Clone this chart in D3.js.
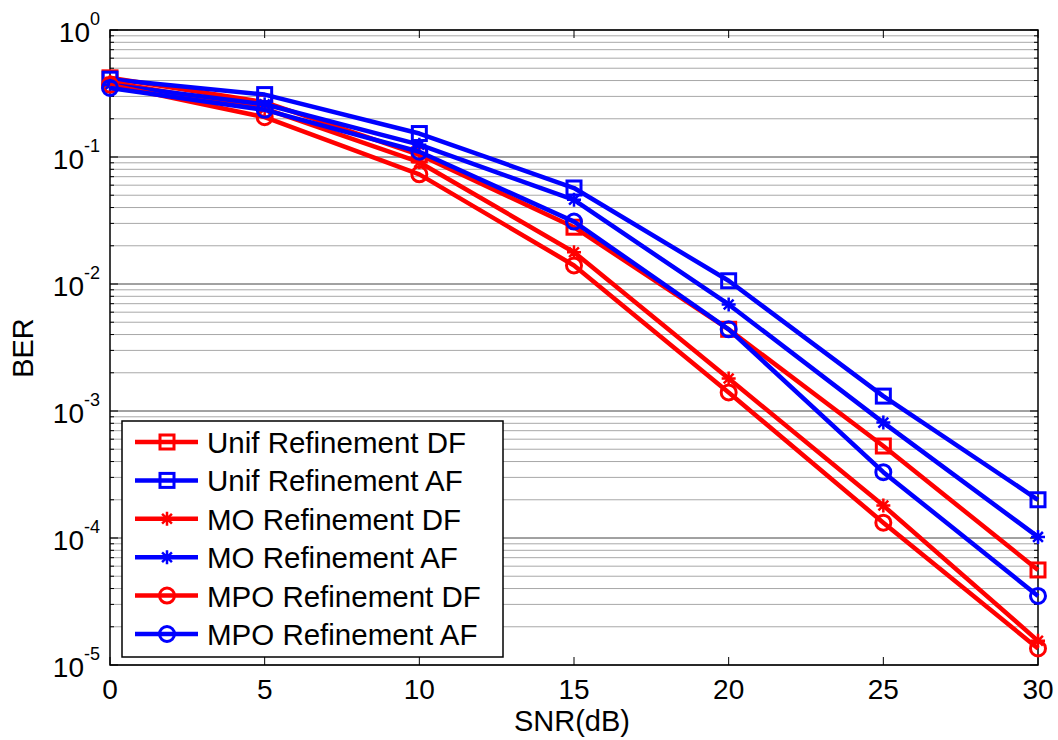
<!DOCTYPE html>
<html>
<head>
<meta charset="utf-8">
<script src="https://cdn.jsdelivr.net/npm/d3@7"></script>
<style>
  html, body { margin: 0; padding: 0; background: #fff; }
  svg { display: block; font-family: "Liberation Sans", Arial, sans-serif; }
</style>
</head>
<body>
<svg id="chart" width="1058" height="740"></svg>
<script>
// SNR points (dB)
const snr = [0, 5, 10, 15, 20, 25, 30];

// BER curves
const unifDF = [0.42, 0.27, 0.104, 0.0280, 0.0044, 5.3e-4, 5.6e-5];
const unifAF = [0.41, 0.31, 0.153, 0.057, 0.0106, 1.31e-3, 2.0e-4];
const moDF   = [0.39, 0.24, 0.091, 0.0178, 1.8e-3, 1.8e-4, 1.55e-5];
const moAF   = [0.37, 0.26, 0.125, 0.046, 6.9e-3, 8.1e-4, 1.02e-4];
const mpoDF  = [0.37, 0.206, 0.073, 0.0140, 1.4e-3, 1.32e-4, 1.35e-5];
const mpoAF  = [0.35, 0.235, 0.110, 0.031, 4.4e-3, 3.3e-4, 3.5e-5];

const seriesNames = ["Unif Refinement DF", "Unif Refinement AF", "MO Refinement DF",
                     "MO Refinement AF", "MPO Refinement DF", "MPO Refinement AF"];
const seriesValues = [unifDF, unifAF, moDF, moAF, mpoDF, mpoAF];
const seriesColors = ["#ff0000", "#0000ff", "#ff0000", "#0000ff", "#ff0000", "#0000ff"];
const seriesMarkers = ["square", "square", "star", "star", "circle", "circle"];

const xTicks = [0, 5, 10, 15, 20, 25, 30];
const yExponents = [0, -1, -2, -3, -4, -5];

const svg = d3.select("#chart");
const plotL = 110, plotR = 1038, plotT = 30, plotB = 665;

const x = d3.scaleLinear().domain([0, 30]).range([plotL, plotR]);
const y = d3.scaleLog().domain([1e-5, 1]).range([plotB, plotT]);

// horizontal grid: minor (2..9) and major (decades)
const minorVals = [], majorVals = [];
for (let e = -5; e <= 0; e++) {
  majorVals.push(Math.pow(10, e));
  if (e < 0) for (let m = 2; m <= 9; m++) minorVals.push(m * Math.pow(10, e));
}
svg.append("g").selectAll("line").data(minorVals).join("line")
  .attr("x1", plotL).attr("x2", plotR)
  .attr("y1", d => y(d)).attr("y2", d => y(d))
  .attr("stroke", "#a8a8a8").attr("stroke-width", 1);
svg.append("g").selectAll("line").data(majorVals).join("line")
  .attr("x1", plotL).attr("x2", plotR)
  .attr("y1", d => y(d)).attr("y2", d => y(d))
  .attr("stroke", "#444").attr("stroke-width", 1);

// inward ticks on all four sides
const tickLen = 8, minorLen = 4;
const ticks = svg.append("g").attr("stroke", "#000").attr("stroke-width", 1);
xTicks.forEach(v => {
  ticks.append("line").attr("x1", x(v)).attr("x2", x(v)).attr("y1", plotB).attr("y2", plotB - tickLen);
  ticks.append("line").attr("x1", x(v)).attr("x2", x(v)).attr("y1", plotT).attr("y2", plotT + tickLen);
});
majorVals.forEach(v => {
  ticks.append("line").attr("x1", plotL).attr("x2", plotL + tickLen).attr("y1", y(v)).attr("y2", y(v));
  ticks.append("line").attr("x1", plotR).attr("x2", plotR - tickLen).attr("y1", y(v)).attr("y2", y(v));
});
minorVals.forEach(v => {
  ticks.append("line").attr("x1", plotL).attr("x2", plotL + minorLen).attr("y1", y(v)).attr("y2", y(v));
  ticks.append("line").attr("x1", plotR).attr("x2", plotR - minorLen).attr("y1", y(v)).attr("y2", y(v));
});

// axes box
svg.append("rect").attr("x", plotL).attr("y", plotT)
  .attr("width", plotR - plotL).attr("height", plotB - plotT)
  .attr("fill", "none").attr("stroke", "#000").attr("stroke-width", 1.5);

// x tick labels
svg.append("g").selectAll("text").data(xTicks).join("text")
  .attr("x", d => x(d)).attr("y", plotB + 34)
  .attr("text-anchor", "middle").attr("font-size", 28).attr("fill", "#000")
  .text(d => d);

// y tick labels: 10 with superscript exponent
const yl = svg.append("g");
yExponents.forEach(e => {
  const t = yl.append("text")
    .attr("x", 100).attr("y", y(Math.pow(10, e)) + 12)
    .attr("text-anchor", "end").attr("font-size", 28).attr("fill", "#000");
  t.append("tspan").text("10");
  t.append("tspan").attr("dy", -17).attr("font-size", 18).text(e === 0 ? "0" : "-" + Math.abs(e));
});

// axis titles
svg.append("text").attr("x", 572).attr("y", 731)
  .attr("text-anchor", "middle").attr("font-size", 29).text("SNR(dB)");
svg.append("text").attr("transform", "translate(33,348) rotate(-90)")
  .attr("text-anchor", "middle").attr("font-size", 29).text("BER");

// marker drawing
function drawMarker(g, type, cx, cy, color) {
  if (type === "square") {
    g.append("rect").attr("x", cx - 7).attr("y", cy - 7).attr("width", 14).attr("height", 14)
      .attr("fill", "none").attr("stroke", color).attr("stroke-width", 3);
  } else if (type === "circle") {
    g.append("circle").attr("cx", cx).attr("cy", cy).attr("r", 7.5)
      .attr("fill", "none").attr("stroke", color).attr("stroke-width", 3);
  } else {
    const r = 7;
    const p = d3.path();
    p.moveTo(cx - r, cy); p.lineTo(cx + r, cy);
    p.moveTo(cx, cy - r); p.lineTo(cx, cy + r);
    p.moveTo(cx - r * 0.7, cy - r * 0.7); p.lineTo(cx + r * 0.7, cy + r * 0.7);
    p.moveTo(cx - r * 0.7, cy + r * 0.7); p.lineTo(cx + r * 0.7, cy - r * 0.7);
    g.append("path").attr("d", p.toString()).attr("stroke", color).attr("stroke-width", 2.5).attr("fill", "none");
  }
}

const line = d3.line().x((d, i) => x(snr[i])).y(d => y(d));
const plot = svg.append("g");
seriesValues.forEach((vals, k) => {
  const g = plot.append("g");
  g.append("path").datum(vals).attr("d", line)
    .attr("fill", "none").attr("stroke", seriesColors[k]).attr("stroke-width", 4.5)
    .attr("stroke-linejoin", "round");
  vals.forEach((v, i) => drawMarker(g, seriesMarkers[k], x(snr[i]), y(v), seriesColors[k]));
});

// legend
const lg = svg.append("g");
lg.append("rect").attr("x", 122).attr("y", 421).attr("width", 381).attr("height", 236)
  .attr("fill", "#fff").attr("stroke", "#000").attr("stroke-width", 1.5);
seriesNames.forEach((name, k) => {
  const cy = 442 + k * 38.4;
  lg.append("line").attr("x1", 135).attr("x2", 198).attr("y1", cy).attr("y2", cy)
    .attr("stroke", seriesColors[k]).attr("stroke-width", 4.5);
  drawMarker(lg, seriesMarkers[k], 167, cy, seriesColors[k]);
  lg.append("text").attr("x", 207).attr("y", cy + 11).attr("font-size", 29.5).attr("fill", "#000").text(name);
});
</script>
</body>
</html>
